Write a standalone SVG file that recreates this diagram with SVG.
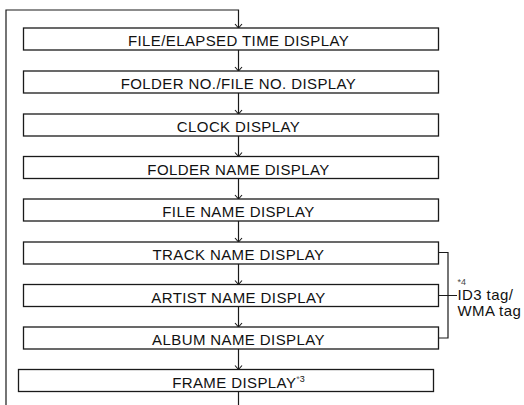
<svg xmlns="http://www.w3.org/2000/svg" width="524" height="405" viewBox="0 0 524 405">
<defs>
<style>
.box{fill:#fff;stroke:#1a1a1a;stroke-width:1.3}
.lbl{font-family:"Liberation Sans",Arial,Helvetica,sans-serif;font-size:15px;letter-spacing:0.4px;fill:#111;text-anchor:middle}
.side{font-family:"Liberation Sans",Arial,Helvetica,sans-serif;font-size:15px;letter-spacing:0.4px;fill:#111}
.note{font-family:"Liberation Sans",Arial,Helvetica,sans-serif;font-size:9px;fill:#444}
.ln{fill:none;stroke:#1a1a1a;stroke-width:1.2}
</style>
<marker id="ah" markerUnits="userSpaceOnUse" markerWidth="10" markerHeight="10" viewBox="-6 -5 7 10" refX="0" refY="0" orient="auto">
<path d="M-4,-3.5 L0,0 L-4,3.5" fill="none" stroke="#1a1a1a" stroke-width="1.1"/>
</marker>
</defs>
<rect width="524" height="405" fill="#fff"/>
<g id="connectors">
<path class="ln" d="M6,405 V10 H238.5 V28" marker-end="url(#ah)"/>
<path class="ln" d="M238.5,50 V71" marker-end="url(#ah)"/>
<path class="ln" d="M238.5,93 V114" marker-end="url(#ah)"/>
<path class="ln" d="M238.5,136 V156.5" marker-end="url(#ah)"/>
<path class="ln" d="M238.5,178.5 V199" marker-end="url(#ah)"/>
<path class="ln" d="M238.5,221 V242" marker-end="url(#ah)"/>
<path class="ln" d="M238.5,264 V284.5" marker-end="url(#ah)"/>
<path class="ln" d="M238.5,306.5 V327" marker-end="url(#ah)"/>
<path class="ln" d="M238.5,349 V369.5" marker-end="url(#ah)"/>
<path class="ln" d="M238.5,391.5 V405"/>
<path class="ln" d="M438.5,252.5 H448 V338 H438.5 M438.5,295.5 H457"/>
</g>
<g id="n1"><rect class="box" x="23.5" y="28" width="415" height="22"/><text class="lbl" x="238.5" y="46">FILE/ELAPSED TIME DISPLAY</text></g>
<g id="n2"><rect class="box" x="23.5" y="71" width="415" height="22"/><text class="lbl" x="238.5" y="89">FOLDER NO./FILE NO. DISPLAY</text></g>
<g id="n3"><rect class="box" x="23.5" y="114" width="415" height="22"/><text class="lbl" x="238.5" y="132">CLOCK DISPLAY</text></g>
<g id="n4"><rect class="box" x="23.5" y="156.5" width="415" height="22"/><text class="lbl" x="238.5" y="174.5">FOLDER NAME DISPLAY</text></g>
<g id="n5"><rect class="box" x="23.5" y="199" width="415" height="22"/><text class="lbl" x="238.5" y="217">FILE NAME DISPLAY</text></g>
<g id="n6"><rect class="box" x="23.5" y="242" width="415" height="22"/><text class="lbl" x="238.5" y="260">TRACK NAME DISPLAY</text></g>
<g id="n7"><rect class="box" x="23.5" y="284.5" width="415" height="22"/><text class="lbl" x="238.5" y="302.5">ARTIST NAME DISPLAY</text></g>
<g id="n8"><rect class="box" x="23.5" y="327" width="415" height="22"/><text class="lbl" x="238.5" y="345">ALBUM NAME DISPLAY</text></g>
<g id="n9"><rect class="box" x="18.5" y="369.5" width="415" height="22"/><text class="lbl" x="238.5" y="387.5">FRAME DISPLAY<tspan dy="-6" font-size="9" letter-spacing="0"><tspan fill="#666">*</tspan>3</tspan></text></g>
<g id="tag-note">
<text class="note" x="457.5" y="285">*4</text>
<text class="side" x="457.5" y="299.5">ID3 tag/</text>
<text class="side" x="457.5" y="315.5">WMA tag</text>
</g>
</svg>
